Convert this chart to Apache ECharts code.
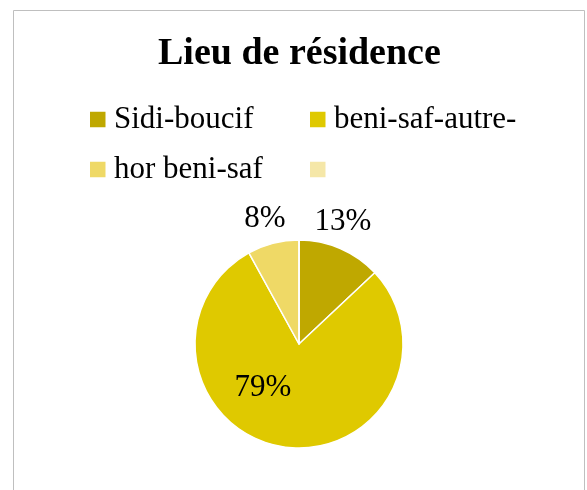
<!DOCTYPE html>
<html>
<head>
<meta charset="utf-8">
<script src="https://cdn.jsdelivr.net/npm/echarts@6/dist/echarts.min.js"></script>
<style>
  html, body { margin: 0; padding: 0; background: #fff; }
  #chart { width: 587px; height: 490px; }
</style>
</head>
<body>
<div id="chart"></div>
<script>
// Lieu de résidence — share of respondents by place of residence
const titleText = 'Lieu de résidence';
const categories = ['Sidi-boucif', 'beni-saf-autre-', 'hor beni-saf', ' '];
const shares = [13, 79, 8, 0];

const colors = ['#BFA800', '#DFC900', '#EFD966', '#F5E7A8'];

// pie geometry (pixels)
const CX = 299, CY = 344, R = 104;
// label anchor offsets from the pie centre, one per slice
const labelOffsets = [[44, -122], [-36, 44], [-34, -125], [0, 0]];

const FONT = "'Liberation Serif', 'Times New Roman', serif";

const chart = echarts.init(document.getElementById('chart'), null, { renderer: 'canvas' });

const pieData = categories.map((name, i) => ({
  name: name,
  value: shares[i],
  itemStyle: { color: colors[i] },
  label: { show: shares[i] > 0 }
}));

const legendStyle = {
  orient: 'vertical',
  top: 104,
  padding: 0,
  itemWidth: 17.5,
  itemHeight: 17.5,
  itemGap: 19,
  icon: 'rect',
  selectedMode: false,
  textStyle: {
    fontFamily: FONT,
    fontSize: 31,
    lineHeight: 31,
    color: '#000',
    padding: [0, 0, 0, 2.5]
  }
};

chart.setOption({
  backgroundColor: '#fff',
  animation: false,
  title: {
    text: titleText,
    left: 158,
    top: 35,
    padding: 0,
    textStyle: {
      fontFamily: FONT,
      fontSize: 38,
      fontWeight: 'bold',
      color: '#000'
    }
  },
  legend: [
    Object.assign({}, legendStyle, { left: 88, data: [categories[0], categories[2]] }),
    Object.assign({}, legendStyle, { left: 308, data: [categories[1], categories[3]] })
  ],
  graphic: [{
    type: 'rect',
    silent: true,
    shape: { x: 13.5, y: 10.5, width: 571, height: 500 },
    style: { fill: null, stroke: '#BFBFBF', lineWidth: 1 }
  }],
  series: [{
    type: 'pie',
    center: [CX, CY],
    radius: [0, R],
    startAngle: 90,
    clockwise: true,
    avoidLabelOverlap: false,
    data: pieData,
    itemStyle: { borderColor: '#fff', borderWidth: 1.5 },
    label: {
      position: 'inside',
      formatter: '{d}%',
      fontFamily: FONT,
      fontSize: 31,
      color: '#000'
    },
    labelLine: { show: false },
    emphasis: { disabled: true },
    labelLayout: function (p) {
      const o = labelOffsets[p.dataIndex];
      return { x: CX + o[0], y: CY + o[1], align: 'center', verticalAlign: 'middle' };
    }
  }]
});
</script>
</body>
</html>
